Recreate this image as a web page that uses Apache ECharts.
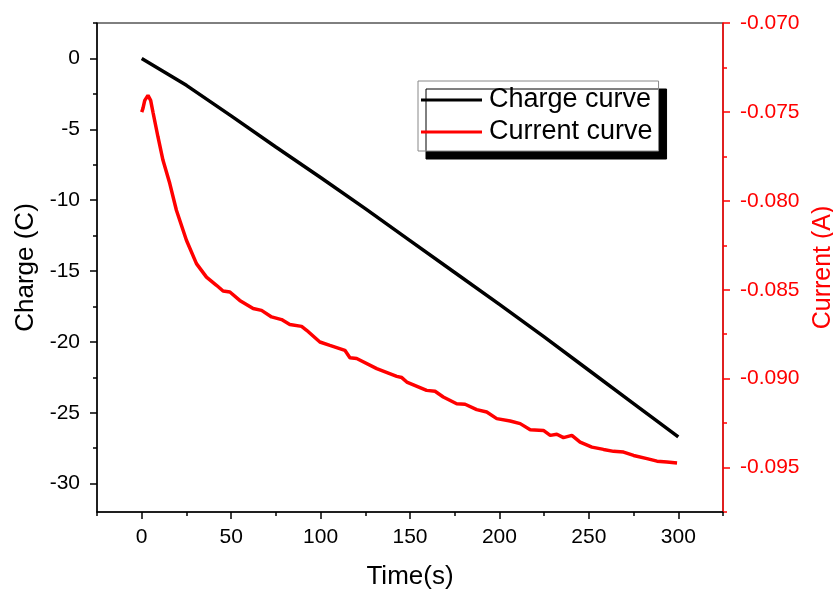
<!DOCTYPE html>
<html>
<head>
<meta charset="UTF-8">
<title>Charge and current curves</title>
<script src="https://cdn.jsdelivr.net/npm/echarts@6/dist/echarts.min.js"></script>
<style>
  html, body { margin: 0; padding: 0; background: #fff; overflow: hidden; }
  #chart { width: 833px; height: 589px; }
</style>
</head>
<body>
<div id="chart"></div>
<script>
// charge curve (s, C)
var chargeTime = [0, 25, 50, 75, 100, 125, 150, 175, 200, 225, 250, 275, 300];
var chargeValues = [0, -1.9, -4.05, -6.25, -8.4, -10.6, -12.85, -15.1, -17.35, -19.65, -22.0, -24.35, -26.7];

// current curve (s, A)
var currentTime = [0, 0.7, 1.7, 3.5, 5.0, 6.3, 9.1, 11.9, 15.7, 19.4, 25.0, 30.6, 36.2, 41.8, 45.5, 49.3,
    54.8, 62.3, 67.0, 72.6, 78.2, 82.8, 89.4, 92.2, 99.6, 105.2, 113.6, 116.4, 120.2, 131.4, 142.6, 145.4,
    148.2, 159.3, 164.0, 168.6, 176.1, 180.8, 187.3, 192.9, 198.5, 206.0, 211.6, 217.2, 224.6, 228.4, 232.1,
    235.8, 240.5, 245.1, 251.7, 258.2, 263.8, 269.4, 275.0, 282.5, 288.1, 293.7, 299.3];
var currentValues = [-0.07501, -0.07480, -0.07435, -0.07407, -0.07435, -0.07502, -0.07641, -0.07772, -0.07903,
    -0.08053, -0.08222, -0.08353, -0.08429, -0.08475, -0.08507, -0.08513, -0.08560, -0.08606, -0.08616,
    -0.08653, -0.08668, -0.08695, -0.08706, -0.08728, -0.08794, -0.08813, -0.08841, -0.08882, -0.08887,
    -0.08944, -0.08987, -0.08994, -0.09019, -0.09066, -0.09071, -0.09103, -0.09141, -0.09144, -0.09174,
    -0.09188, -0.09225, -0.09238, -0.09253, -0.09287, -0.09291, -0.09319, -0.09313, -0.09332, -0.09319,
    -0.09357, -0.09385, -0.09398, -0.09409, -0.09413, -0.09432, -0.09450, -0.09464, -0.09469, -0.09475];

// tick positions
var xMajor = [0, 50, 100, 150, 200, 250, 300];
var xMinor = [-25, 25, 75, 125, 175, 225, 275, 325];
var chargeMajor = [-30, -25, -20, -15, -10, -5, 0];
var chargeMinor = [-27.5, -22.5, -17.5, -12.5, -7.5, -2.5, 2.5];
var currentMajor = [-0.095, -0.090, -0.085, -0.080, -0.075, -0.070];
var currentMinor = [-0.0975, -0.0925, -0.0875, -0.0825, -0.0775, -0.0725];

var FONT = 'Liberation Sans';

function pairs(xs, ys) {
    var out = [];
    for (var i = 0; i < xs.length; i++) out.push([xs[i], ys[i]]);
    return out;
}

var myChart = echarts.init(document.getElementById('chart'));

var option = {
    animation: false,
    textStyle: { fontFamily: FONT },
    grid: {
        left: 97, width: 626, top: 23, height: 489,
        outerBoundsMode: 'none',
        show: true, borderColor: '#000', borderWidth: 1, backgroundColor: 'transparent'
    },
    legend: {
        orient: 'vertical',
        left: 418, top: 81,
        padding: [4, 6, 4, 3],
        itemGap: 2,
        itemWidth: 61, itemHeight: 3,
        icon: 'rect',
        backgroundColor: '#fff',
        borderColor: '#888', borderWidth: 1,
        shadowColor: '#000', shadowBlur: 0, shadowOffsetX: 8, shadowOffsetY: 8,
        textStyle: { fontSize: 27, color: '#000', fontFamily: FONT, lineHeight: 30, padding: [0, 0, 0, 2] },
        data: ['Charge curve', 'Current curve']
    },
    xAxis: [
        {
            type: 'value', min: -25, max: 325, position: 'bottom',
            name: 'Time(s)', nameLocation: 'middle', nameGap: 52,
            nameTextStyle: { fontSize: 26, color: '#000', fontFamily: FONT },
            axisLine: { onZero: false, lineStyle: { color: '#000', width: 1.5 } },
            axisTick: { customValues: xMajor, length: 7, lineStyle: { color: '#000', width: 1.5 } },
            axisLabel: { customValues: xMajor, fontSize: 21, color: '#000', margin: 15 },
            splitLine: { show: false }
        },
        {
            type: 'value', min: -25, max: 325, position: 'bottom', offset: 0,
            axisLine: { show: false, onZero: false },
            axisTick: { customValues: xMinor, length: 4, lineStyle: { color: '#000', width: 1.5 } },
            axisLabel: { show: false },
            splitLine: { show: false }
        }
    ],
    yAxis: [
        {
            type: 'value', min: -32, max: 2.5, position: 'left',
            name: 'Charge (C)', nameLocation: 'middle', nameGap: 57, nameRotate: 90,
            nameTextStyle: { fontSize: 26, color: '#000', fontFamily: FONT },
            axisLine: { show: true, onZero: false, lineStyle: { color: '#000', width: 1.5 } },
            axisTick: { customValues: chargeMajor, length: 7, lineStyle: { color: '#000', width: 1.5 } },
            axisLabel: { customValues: chargeMajor, fontSize: 21, color: '#000', margin: 17 },
            splitLine: { show: false }
        },
        {
            type: 'value', min: -0.0975, max: -0.070, position: 'right',
            name: 'Current (A)', nameLocation: 'middle', nameGap: 76, nameRotate: 90,
            nameTextStyle: { fontSize: 25, color: '#f00', fontFamily: FONT },
            axisLine: { show: true, onZero: false, lineStyle: { color: '#f00', width: 1.5 } },
            axisTick: { customValues: currentMajor, length: 7, lineStyle: { color: '#f00', width: 1.5 } },
            axisLabel: {
                customValues: currentMajor, fontSize: 21, color: '#f00', margin: 17,
                formatter: function (v) { return v.toFixed(3); }
            },
            splitLine: { show: false }
        },
        {
            type: 'value', min: -32, max: 2.5, position: 'left', offset: 0,
            axisLine: { show: false, onZero: false },
            axisTick: { customValues: chargeMinor, length: 4, lineStyle: { color: '#000', width: 1.5 } },
            axisLabel: { show: false },
            splitLine: { show: false }
        },
        {
            type: 'value', min: -0.0975, max: -0.070, position: 'right', offset: 0,
            axisLine: { show: false, onZero: false },
            axisTick: { customValues: currentMinor, length: 4, lineStyle: { color: '#f00', width: 1.5 } },
            axisLabel: { show: false },
            splitLine: { show: false }
        }
    ],
    series: [
        {
            name: 'Charge curve', type: 'line', xAxisIndex: 0, yAxisIndex: 0,
            data: pairs(chargeTime, chargeValues),
            symbol: 'none', lineStyle: { color: '#000', width: 3.5 }, itemStyle: { color: '#000' }
        },
        {
            name: 'Current curve', type: 'line', xAxisIndex: 0, yAxisIndex: 1,
            data: pairs(currentTime, currentValues),
            symbol: 'none', lineStyle: { color: '#f00', width: 3.5 }, itemStyle: { color: '#f00' }
        }
    ]
};
myChart.setOption(option);
</script>
</body>
</html>
